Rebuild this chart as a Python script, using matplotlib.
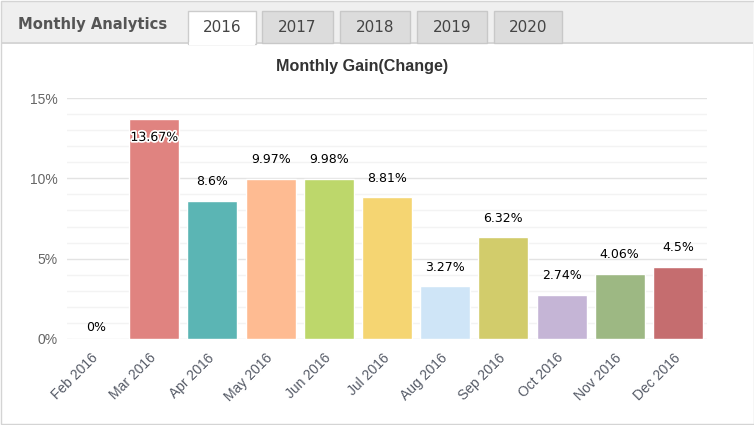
import matplotlib
matplotlib.use("Agg")
import matplotlib.pyplot as plt
import matplotlib.patheffects as pe
from matplotlib.patches import Rectangle
from matplotlib.ticker import MultipleLocator, FuncFormatter

months = ["Feb 2016", "Mar 2016", "Apr 2016", "May 2016", "Jun 2016", "Jul 2016",
          "Aug 2016", "Sep 2016", "Oct 2016", "Nov 2016", "Dec 2016"]
gain = [0, 13.67, 8.6, 9.97, 9.98, 8.81, 3.27, 6.32, 2.74, 4.06, 4.5]
colors = ["#e08380", "#e08380", "#5bb5b4", "#febb92", "#bdd76b", "#f5d572",
          "#cfe5f7", "#d2cc6b", "#c5b5d6", "#9db883", "#c56d6f"]
years = ["2016", "2017", "2018", "2019", "2020"]

W, H = 754, 425
fig = plt.figure(figsize=(W / 100, H / 100), dpi=100)
fig.patch.set_facecolor("white")


def box(x0, y0, x1, y1, **kw):
    # pixel coords (top-left origin) -> figure rectangle
    r = Rectangle((x0 / W, 1 - y1 / H), (x1 - x0) / W, (y1 - y0) / H,
                  transform=fig.transFigure, **kw)
    fig.add_artist(r)
    return r


def ftext(x, y, s, **kw):
    fig.text(x / W, 1 - y / H, s, **kw)


# header strip and outer frame
box(1, 1, 753, 43, facecolor="#efefef", edgecolor="none", zorder=0)
box(1, 42, 753, 43.5, facecolor="#d6d6d6", edgecolor="none", zorder=0)
box(0.5, 0.5, 753.5, 423.5, facecolor="none", edgecolor="#d4d4d4", lw=1, zorder=5)
ftext(18, 25, "Monthly Analytics", fontsize=10.6, fontweight="bold", color="#555555",
      family="DejaVu Sans", va="center", ha="left")

tab_x = [(188, 256), (262, 333), (340, 410), (417, 487), (494, 562)]
for i, (yr, (a, b)) in enumerate(zip(years, tab_x)):
    if i == 0:
        box(a, 11, b, 44, facecolor="white", edgecolor="#cccccc", lw=1, zorder=2)
        box(a + 1, 42, b - 1, 45, facecolor="white", edgecolor="none", zorder=3)
    else:
        box(a, 11, b, 43, facecolor="#dcdcdc", edgecolor="#c8c8c8", lw=1, zorder=2)
    ftext((a + b) / 2, 27, yr, fontsize=11, color="#444444", family="DejaVu Sans",
          va="center", ha="center", zorder=4)

# chart
ax = fig.add_axes([67 / W, 1 - 339 / H, (707 - 67) / W, (339 - 98) / H])
x = range(len(months))
ax.bar(x, gain, width=0.86, color=colors, edgecolor="white", linewidth=1, zorder=3)
ax.set_xlim(-0.5, len(months) - 0.5)
ax.set_ylim(0, 15)
ax.yaxis.set_major_locator(MultipleLocator(5))
ax.yaxis.set_minor_locator(MultipleLocator(1))
ax.yaxis.set_major_formatter(FuncFormatter(lambda v, p: f"{v:g}%"))
ax.grid(axis="y", which="major", color="#e3e3e3", lw=1, zorder=0)
ax.grid(axis="y", which="minor", color="#f3f3f3", lw=1, zorder=0)
for s in ax.spines.values():
    s.set_visible(False)
ax.tick_params(axis="y", which="both", length=0, pad=7, labelsize=10, labelcolor="#666666")
ax.tick_params(axis="x", length=0, pad=12, labelsize=10, labelcolor="#555a66")
ax.set_xticks(list(x))
ax.set_xticklabels(months, rotation=45, ha="right", va="center", rotation_mode="anchor",
                   family="Liberation Sans")
for lab in ax.get_yticklabels():
    lab.set_family("Liberation Sans")

for i, v in enumerate(gain):
    if v + 1.6 > 15:
        ax.annotate(f"{v:g}%", (i, v), xytext=(0, -13), textcoords="offset points",
                    ha="center", va="center", fontsize=9, color="black",
                    path_effects=[pe.withStroke(linewidth=2.5, foreground="white")], zorder=5)
    else:
        dy = 8.5 if v == 0 else 14
        ax.annotate(f"{v:g}%", (i, v), xytext=(0, dy), textcoords="offset points",
                    ha="center", va="center", fontsize=9, color="black", zorder=5)

ftext(362, 66, "Monthly Gain(Change)", fontsize=11.6, fontweight="bold", color="#333333",
      family="Liberation Sans", ha="center", va="center")

fig.savefig("out.png", dpi=100)
